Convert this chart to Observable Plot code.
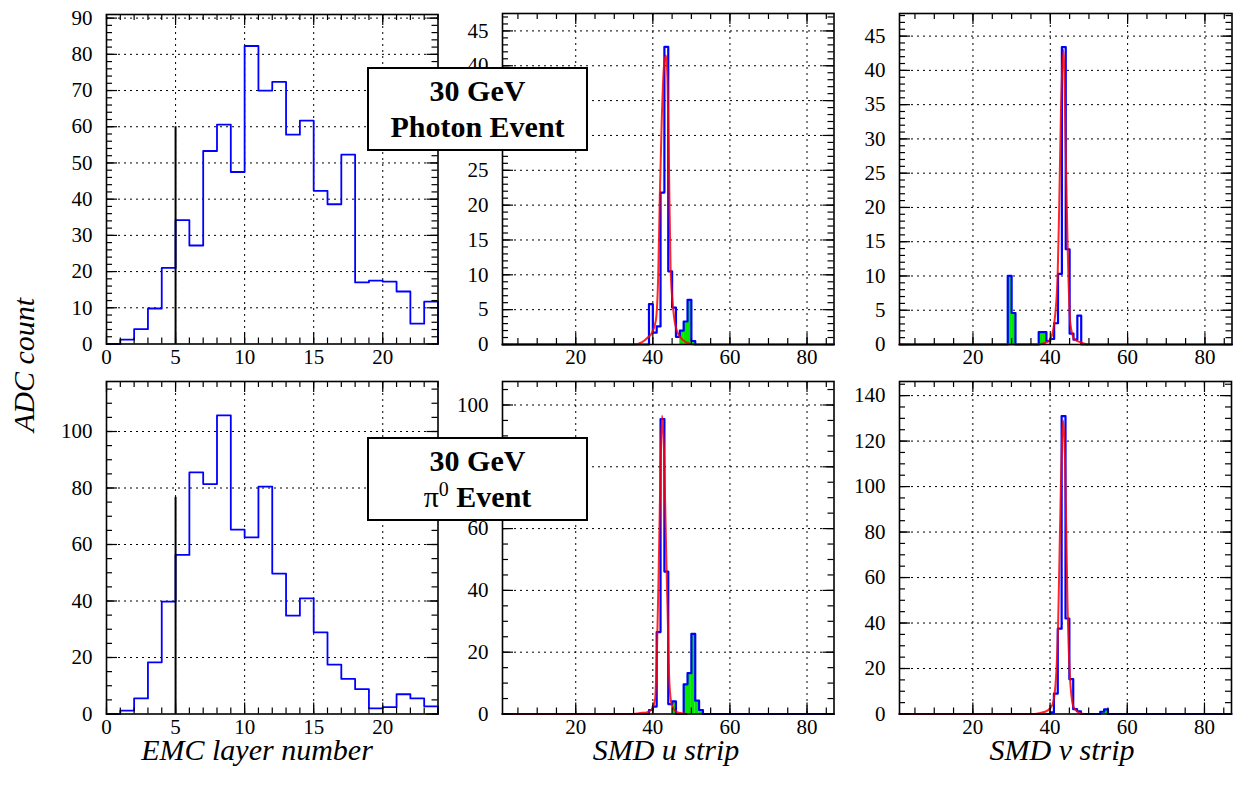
<!DOCTYPE html>
<html><head><meta charset="utf-8">
<script src="https://cdn.jsdelivr.net/npm/d3@7"></script>
<script src="https://cdn.jsdelivr.net/npm/@observablehq/plot@0.6"></script>
<style>
body{margin:0;background:#fff;}
#root{position:relative;width:1237px;height:789px;overflow:hidden;font-family:'Liberation Serif',serif;background:#fff;}
#root svg{position:absolute;overflow:visible;}
#root svg text{font-family:'Liberation Serif',serif !important;}
.box{position:absolute;border:2px solid #000;background:#fff;box-sizing:border-box;text-align:center;font-family:'Liberation Serif',serif;font-weight:bold;font-size:30px;line-height:36px;color:#000;}
.box .n{font-weight:normal;}
.title{position:absolute;font-family:'Liberation Serif',serif;font-style:italic;font-size:30px;line-height:22px;white-space:nowrap;transform:translate(-50%,-50%);color:#000;}
.ytitle{position:absolute;font-family:'Liberation Serif',serif;font-style:italic;font-size:30px;line-height:30px;white-space:nowrap;transform:translate(-50%,-50%) rotate(-90deg);color:#000;}
</style></head><body><div id="root"></div>
<script>
// ---------------- data ----------------
const emcLayers = d3.range(0, 24);
const emcPhotonCounts = [0, 1.2, 4.1, 9.8, 21, 34.2, 27.2, 53.3, 60.6, 47.5, 82.3, 70, 72.4, 57.8, 61.7, 42.3, 38.6, 52.3, 17, 17.5, 17.2, 14.5, 5.6, 11.7];
const emcPi0Counts = [0, 1.2, 5.5, 18.3, 39.8, 56.3, 85.5, 81.4, 105.7, 65.3, 62.5, 80.5, 49.7, 34.8, 40.9, 28.9, 17.5, 12.4, 8.8, 2, 2.4, 7, 5.5, 2.7];
const emcCutLayer = 5;
const emcCutPhoton = 60;
const emcCutPi0 = 76.7;

const uPhotonStrips = [39, 40, 41, 42, 43, 44, 45, 46, 47, 48, 49, 50];
const uPhotonCounts = [5.8, 1.7, 2.6, 21.8, 42.7, 10.5, 5.3, 1.1, 2.0, 3.3, 6.4, 0.5];
const uPhotonGreen = [47, 48, 49, 50];
const uPhotonFitX = [1, 35, 37.1, 38.7, 39.7, 40.8, 41.4, 41.8, 42.3, 42.9, 43.4, 43.8, 44.2, 44.6, 45.3, 46.2, 47.5, 49.6, 51];
const uPhotonFitY = [0, 0, 0.3, 1.0, 1.6, 3.5, 10, 21, 32, 40, 41.5, 38, 25, 11, 5, 2, 0.8, 0.1, 0];

const vPhotonStrips = [29, 30, 37, 38, 39, 40, 41, 42, 43, 44, 45, 46, 47];
const vPhotonCounts = [10.0, 4.6, 1.8, 1.8, 0.5, 0.8, 3.1, 10.3, 43.4, 13.9, 1.6, 0.7, 4.2];
const vPhotonGreen = [29, 30, 37, 38];
const vPhotonFitX = [1, 37, 38.3, 39.6, 40.5, 41.0, 41.9, 42.3, 42.8, 43.4, 44.1, 44.5, 45.2, 46.2, 47.9, 49.7];
const vPhotonFitY = [0, 0, 0.2, 0.5, 1.5, 3, 10, 20, 35, 43, 25, 14, 3, 0.8, 0.3, 0];

const uPi0Strips = [39, 40, 41, 42, 43, 44, 45, 48, 49, 50, 51, 52];
const uPi0Counts = [1.3, 2.4, 26.5, 95.4, 46.1, 3.2, 4.1, 9.6, 13.2, 25.9, 4.3, 1.3];
const uPi0Green = [45, 48, 49, 50, 51, 52];
const uPi0FitX = [1, 35, 36.7, 38.4, 39.7, 40.6, 41.1, 41.5, 42.0, 42.4, 42.9, 43.5, 43.8, 44.3, 44.9, 45.8, 47.1, 48.8];
const uPi0FitY = [0, 0, 0.3, 0.5, 1.5, 5, 22, 45, 80, 96.5, 85, 50, 35, 10, 3, 1, 0.3, 0];

const vPi0Strips = [40, 41, 42, 43, 44, 45, 46, 47, 53, 54];
const vPi0Counts = [0.7, 9, 37.5, 131, 42, 15.3, 2.1, 1.2, 1, 2];
const vPi0Green = [53, 54];
const vPi0FitX = [1, 36, 37.5, 39.3, 40.6, 41.5, 42.1, 42.8, 43.4, 43.9, 44.5, 45.2, 46.1, 47.5, 48.8];
const vPi0FitY = [0, 0, 0.5, 1.5, 4, 15, 40, 100, 129, 110, 50, 15, 3, 0.5, 0];

// tick labels (labels hidden behind the event boxes in the reference are left out)
const emcXLabels = [0, 5, 10, 15, 20];
const smdXLabels = [20, 40, 60, 80];
const emcPhotonYLabels = [0, 10, 20, 30, 40, 50, 60, 70, 80, 90];
const uPhotonYLabels = [0, 5, 10, 15, 20, 25, 40, 45];
const vPhotonYLabels = [0, 5, 10, 15, 20, 25, 30, 35, 40, 45];
const emcPi0YLabels = [0, 20, 40, 60, 80, 100];
const uPi0YLabels = [0, 20, 40, 60, 100];
const vPi0YLabels = [0, 20, 40, 60, 80, 100, 120, 140];

const xTitles = ["EMC layer number", "SMD u strip", "SMD v strip"];
const yTitle = "ADC count";

// ---------------- styling / layout ----------------
const BLUE = "#0000ff", RED = "#ff0000", GREEN = "#00e600";
const M = {l: 60, r: 6, t: 6, b: 40};
const FONT = "'Liberation Serif', serif";

function stepPoints(x0, x1, keys, vals) {
  const m = new Map(keys.map((k, i) => [k, vals[i]]));
  const pts = d3.range(x0, x1).map(s => ({x: s, y: m.get(s) ?? 0}));
  pts.push({x: x1, y: 0});
  return pts;
}
function greenBins(keys, vals, green) {
  return keys.map((k, i) => ({x: k, y: vals[i]})).filter(d => green.includes(d.x));
}

function panel(cfg) {
  const [fl, ft, fr, fb] = cfg.frame;
  const fw = fr - fl, fh = fb - ft;
  const W = fw + M.l + M.r, H = fh + M.t + M.b;
  const tk = (vals, opts) => Plot.tickX(vals, {x: d => d, stroke: "black", strokeWidth: 1.2, ...opts});
  const tky = (vals, opts) => Plot.tickY(vals, {y: d => d, stroke: "black", strokeWidth: 1.2, ...opts});
  const grid = {stroke: "black", strokeOpacity: 1, strokeWidth: 1, strokeDasharray: "2,4"};
  const marks = [
    Plot.gridX(cfg.xMajor.filter(v => v > cfg.xDomain[0] && v < cfg.xDomain[1]), grid),
    Plot.gridY(cfg.yMajor.filter(v => v > 0), grid),
  ];
  if (cfg.green) marks.push(Plot.rectY(cfg.green, {x1: d => d.x, x2: d => d.x + 1, y: d => d.y, fill: GREEN}));
  marks.push(Plot.line(cfg.hist, {x: "x", y: "y", curve: "step-after", stroke: BLUE, strokeWidth: cfg.lw ?? 2.2}));
  if (cfg.fit) marks.push(Plot.line(cfg.fit, {x: "x", y: "y", curve: "monotone-x", stroke: RED, strokeWidth: 2, strokeOpacity: 0.85}));
  if (cfg.cut) marks.push(Plot.ruleX([cfg.cut[0]], {y1: 0, y2: cfg.cut[1], stroke: "black", strokeWidth: 2}));
  marks.push(
    tk(cfg.xMinor, {insetTop: fh - 6}), tk(cfg.xMajor, {insetTop: fh - 11}),
    tk(cfg.xMinor, {insetBottom: fh - 6}), tk(cfg.xMajor, {insetBottom: fh - 11}),
    tky(cfg.yMinor, {insetRight: fw - 6}), tky(cfg.yMajor, {insetRight: fw - 11}),
    tky(cfg.yMinor, {insetLeft: fw - 6}), tky(cfg.yMajor, {insetLeft: fw - 11}),
    Plot.frame({stroke: "black", strokeWidth: 1.6}),
    Plot.axisX(cfg.xLabels, {tickSize: 0, tickPadding: 5, fontSize: 21, label: null, fontFamily: FONT}),
    Plot.axisY(cfg.yLabels, {tickSize: 0, tickPadding: 14, fontSize: 21, label: null, fontFamily: FONT})
  );
  const svg = Plot.plot({
    width: W, height: H,
    marginLeft: M.l, marginRight: M.r, marginTop: M.t, marginBottom: M.b,
    x: {domain: cfg.xDomain}, y: {domain: cfg.yDomain},
    style: {fontFamily: FONT, fontSize: "21px", color: "black", background: "transparent"},
    marks
  });
  svg.style.left = (fl - M.l) + "px";
  svg.style.top = (ft - M.t) + "px";
  return svg;
}

const root = document.getElementById("root");
const emcXMinor = d3.range(0, 25, 1), emcXMajor = d3.range(0, 25, 5);
const smdXMinor = d3.range(5, 87, 5), smdXMajor = d3.range(20, 87, 20);

root.append(panel({
  frame: [106, 14, 437.5, 343.5], xDomain: [0, 24], yDomain: [0, 91],
  hist: stepPoints(0, 24, emcLayers, emcPhotonCounts), lw: 1.8,
  cut: [emcCutLayer, emcCutPhoton],
  xMinor: emcXMinor, xMajor: emcXMajor, xLabels: emcXLabels,
  yMinor: d3.range(0, 91, 2), yMajor: d3.range(0, 91, 10), yLabels: emcPhotonYLabels
}));
root.append(panel({
  frame: [502, 12.5, 833.5, 343.5], xDomain: [1, 87], yDomain: [0, 47.5],
  hist: stepPoints(1, 87, uPhotonStrips, uPhotonCounts),
  green: greenBins(uPhotonStrips, uPhotonCounts, uPhotonGreen),
  fit: uPhotonFitX.map((x, i) => ({x, y: uPhotonFitY[i]})),
  xMinor: smdXMinor, xMajor: smdXMajor, xLabels: smdXLabels,
  yMinor: d3.range(0, 48, 1), yMajor: d3.range(0, 48, 5), yLabels: uPhotonYLabels
}));
root.append(panel({
  frame: [898.5, 12.5, 1231, 343.5], xDomain: [1, 87], yDomain: [0, 48.3],
  hist: stepPoints(1, 87, vPhotonStrips, vPhotonCounts),
  green: greenBins(vPhotonStrips, vPhotonCounts, vPhotonGreen),
  fit: vPhotonFitX.map((x, i) => ({x, y: vPhotonFitY[i]})),
  xMinor: smdXMinor, xMajor: smdXMajor, xLabels: smdXLabels,
  yMinor: d3.range(0, 49, 1), yMajor: d3.range(0, 49, 5), yLabels: vPhotonYLabels
}));
root.append(panel({
  frame: [106, 381, 437.5, 713.5], xDomain: [0, 24], yDomain: [0, 117.7],
  hist: stepPoints(0, 24, emcLayers, emcPi0Counts), lw: 1.8,
  cut: [emcCutLayer, emcCutPi0],
  xMinor: emcXMinor, xMajor: emcXMajor, xLabels: emcXLabels,
  yMinor: d3.range(0, 118, 5), yMajor: d3.range(0, 118, 20), yLabels: emcPi0YLabels
}));
root.append(panel({
  frame: [502, 381, 833.5, 713.5], xDomain: [1, 87], yDomain: [0, 107.6],
  hist: stepPoints(1, 87, uPi0Strips, uPi0Counts),
  green: greenBins(uPi0Strips, uPi0Counts, uPi0Green),
  fit: uPi0FitX.map((x, i) => ({x, y: uPi0FitY[i]})),
  xMinor: smdXMinor, xMajor: smdXMajor, xLabels: smdXLabels,
  yMinor: d3.range(0, 108, 5), yMajor: d3.range(0, 108, 20), yLabels: uPi0YLabels
}));
root.append(panel({
  frame: [899, 381, 1231, 713.5], xDomain: [1, 87], yDomain: [0, 146.2],
  hist: stepPoints(1, 87, vPi0Strips, vPi0Counts),
  green: greenBins(vPi0Strips, vPi0Counts, vPi0Green),
  fit: vPi0FitX.map((x, i) => ({x, y: vPi0FitY[i]})),
  xMinor: smdXMinor, xMajor: smdXMajor, xLabels: smdXLabels,
  yMinor: d3.range(0, 147, 5), yMajor: d3.range(0, 147, 20), yLabels: vPi0YLabels
}));

// text boxes
function box(left, top, html) {
  const d = document.createElement("div");
  d.className = "box";
  Object.assign(d.style, {left: left + "px", top: top + "px", width: "221px", height: "84px", paddingTop: "4px"});
  d.innerHTML = html;
  root.append(d);
}
box(367, 67, "30 GeV<br>Photon Event");
box(367, 437, "30 GeV<br><span class='n'>π<sup style='font-size:20px;line-height:0'>0</sup></span> Event");

// axis titles
const titlePos = [[257, 750], [666, 750], [1062, 750]];
xTitles.forEach((t, i) => {
  const d = document.createElement("div");
  d.className = "title";
  d.style.left = titlePos[i][0] + "px";
  d.style.top = titlePos[i][1] + "px";
  d.textContent = t;
  root.append(d);
});
const yt = document.createElement("div");
yt.className = "ytitle";
yt.style.left = "24px"; yt.style.top = "365px";
yt.textContent = yTitle;
root.append(yt);
</script>
</body></html>
